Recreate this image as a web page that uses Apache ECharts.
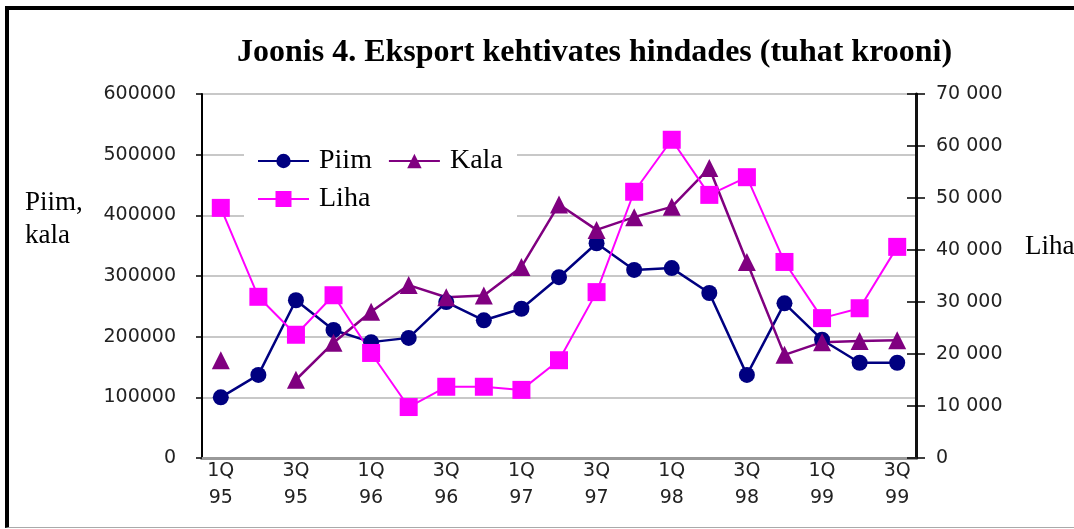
<!DOCTYPE html>
<html>
<head>
<meta charset="utf-8">
<style>
  html, body { margin: 0; padding: 0; background: #fff; }
  #frame { position: absolute; left: 5px; top: 6px; width: 1080px; height: 517px;
           border-top: 4px solid #000; border-left: 4px solid #000; border-bottom: 1px solid #aaa; }
  #chart { position: absolute; left: 0; top: 0; width: 1074px; height: 529px; }
</style>
<script src="https://cdn.jsdelivr.net/npm/echarts@6/dist/echarts.min.js"></script>
</head>
<body>
<div id="frame"></div>
<div id="chart"></div>
<script>
// quarters 1Q95 .. 3Q99
var quarters = ['1Q\n95', '2Q\n95', '3Q\n95', '4Q\n95', '1Q\n96', '2Q\n96', '3Q\n96', '4Q\n96',
  '1Q\n97', '2Q\n97', '3Q\n97', '4Q\n97', '1Q\n98', '2Q\n98', '3Q\n98', '4Q\n98',
  '1Q\n99', '2Q\n99', '3Q\n99']
// left axis (Piim, kala)
var piim = [100000, 137000, 260000, 211000, 191000, 198000, 257000, 227000, 246000, 298000,
  354000, 310000, 313000, 272000, 137000, 255000, 195000, 157000, 157000]
var kala = [161000, null, 129000, 190000, 241000, 285000, 265000, 268000, 315000, 418000,
  376000, 397000, 414000, 478000, 323000, 170000, 191000, 193000, 194000]
// right axis (Liha)
var liha = [48100, 31000, 23700, 31300, 20200, 9800, 13700, 13700, 13100, 18800,
  31900, 51200, 61200, 50600, 54000, 37700, 26900, 28800, 40600]

var serif = 'Liberation Serif'
var sans = 'DejaVu Sans'

var chart = echarts.init(document.getElementById('chart'))
chart.setOption({
  animation: false,
  title: {
    text: 'Joonis 4. Eksport kehtivates hindades (tuhat krooni)',
    left: 232,
    top: 32,
    textStyle: { fontFamily: serif, fontWeight: 'bold', fontSize: 32, color: '#000' }
  },
  grid: { left: 202, right: 158, top: 94, bottom: 71 },
  graphic: [
    { type: 'rect', z: 3, shape: { x: 244, y: 140, width: 273, height: 82 }, style: { fill: '#fff' } },
    { type: 'text', left: 25, top: 186, style: { text: 'Piim,\nkala', font: '27px ' + serif, fill: '#000', lineHeight: 33 } },
    { type: 'text', left: 1025, top: 233, style: { text: 'Liha', font: '27px ' + serif, fill: '#000' } }
  ],
  legend: [
    {
      data: ['Piim', 'Kala'],
      left: 247, top: 144, padding: [3, 10],
      itemWidth: 51, itemHeight: 18, itemGap: 16, z: 5,
      textStyle: { fontFamily: serif, fontSize: 28, color: '#000', padding: [0, 0, 0, 5] }
    },
    {
      data: ['Liha'],
      left: 247, top: 182, padding: [3, 10],
      itemWidth: 51, itemHeight: 20, z: 5,
      textStyle: { fontFamily: serif, fontSize: 28, color: '#000', padding: [0, 0, 0, 5] }
    }
  ],
  xAxis: [
    {
      type: 'category',
      data: quarters,
      axisLine: { lineStyle: { color: '#222', width: 3 } },
      axisTick: { interval: 0, length: 6, lineStyle: { color: '#000', width: 1.5 } },
      axisLabel: { interval: 1, color: '#222', fontFamily: sans, fontSize: 19, lineHeight: 27, margin: 0 }
    },
    {
      type: 'category',
      data: quarters,
      position: 'top',
      axisLine: { lineStyle: { color: '#999', width: 3 } },
      axisTick: { show: false },
      axisLabel: { show: false }
    }
  ],
  yAxis: [
    {
      type: 'value',
      min: 0, max: 600000, interval: 100000,
      axisLine: { show: true, lineStyle: { color: '#000', width: 2 } },
      axisTick: { show: true, length: 6, lineStyle: { color: '#000', width: 1.5 } },
      axisLabel: { color: '#222', fontFamily: sans, fontSize: 19, margin: 26, formatter: function (v) { return String(v) } },
      splitLine: { lineStyle: { color: '#c8c8c8', width: 2 } }
    },
    {
      type: 'value',
      position: 'right',
      min: 0, max: 70000, interval: 10000,
      axisLine: { show: true, lineStyle: { color: '#111', width: 3 } },
      axisTick: { show: true, length: 9, lineStyle: { color: '#000', width: 1.5 } },
      axisLabel: {
        color: '#222', fontFamily: sans, fontSize: 19, margin: 20,
        formatter: function (v) { return v === 0 ? '0' : (v / 1000) + ' 000' }
      },
      splitLine: { show: false }
    },
    {
      type: 'value',
      position: 'right',
      min: 0, max: 70000, interval: 10000,
      axisLine: { show: false },
      axisTick: { show: true, inside: true, length: 9, lineStyle: { color: '#000', width: 1.5 } },
      axisLabel: { show: false },
      splitLine: { show: false }
    }
  ],
  series: [
    {
      name: 'Piim',
      type: 'line',
      data: piim,
      color: '#000080',
      symbol: 'circle',
      symbolSize: 16,
      lineStyle: { width: 2.5 }
    },
    {
      name: 'Kala',
      type: 'line',
      data: kala,
      color: '#800080',
      symbol: 'triangle',
      symbolSize: 18,
      lineStyle: { width: 2.5 }
    },
    {
      name: 'Liha',
      type: 'line',
      yAxisIndex: 1,
      data: liha,
      color: '#ff00ff',
      symbol: 'rect',
      symbolSize: 18,
      lineStyle: { width: 2 }
    }
  ]
})
</script>
</body>
</html>
